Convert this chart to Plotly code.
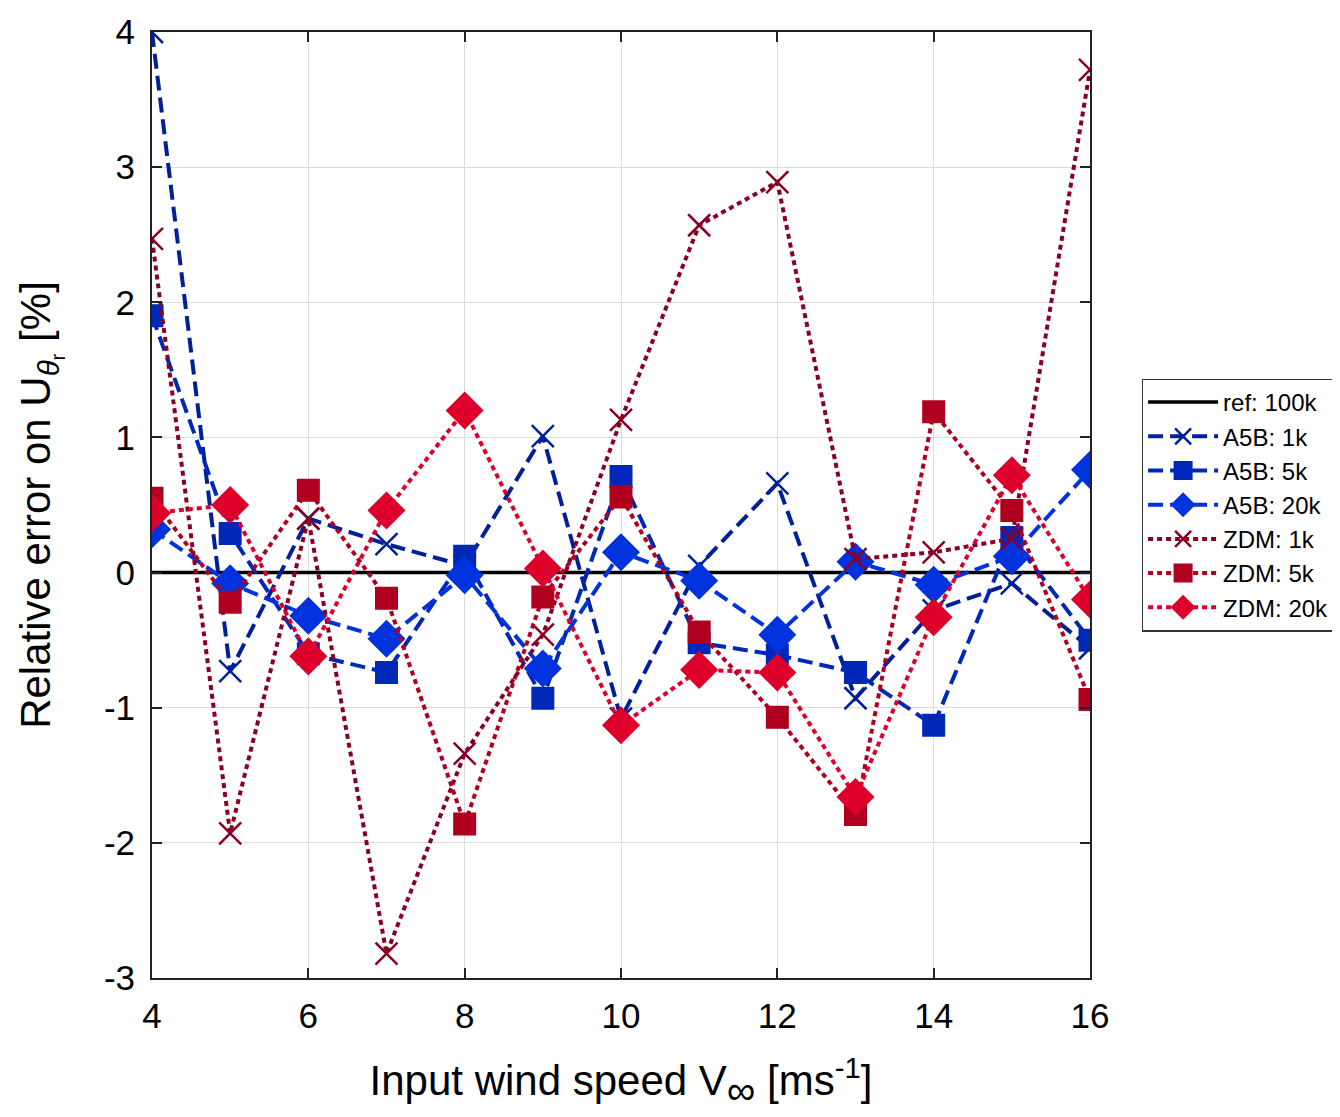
import plotly.graph_objects as go

x = [4, 5, 6, 7, 8, 9, 10, 11, 12, 13, 14, 15, 16]
ref_100k = [0] * 13
a5b_1k = [4.00, -0.73, 0.40, 0.21, 0.05, 1.01, -1.08, 0.05, 0.66, -0.93, -0.28, -0.08, -0.56]
a5b_5k = [1.90, 0.29, -0.60, -0.74, 0.12, -0.93, 0.71, -0.52, -0.61, -0.74, -1.13, 0.26, -0.50]
a5b_20k = [0.32, -0.08, -0.32, -0.49, -0.02, -0.71, 0.15, -0.06, -0.46, 0.08, -0.09, 0.12, 0.76]
zdm_1k = [2.47, -1.93, 0.40, -2.82, -1.34, -0.46, 1.13, 2.57, 2.89, 0.10, 0.15, 0.25, 3.72]
zdm_5k = [0.55, -0.22, 0.61, -0.19, -1.86, -0.18, 0.56, -0.44, -1.07, -1.79, 1.19, 0.46, -0.94]
zdm_20k = [0.44, 0.50, -0.62, 0.46, 1.20, 0.03, -1.13, -0.72, -0.74, -1.66, -0.33, 0.72, -0.20]

x_ticks = [4, 6, 8, 10, 12, 14, 16]
y_ticks = [-3, -2, -1, 0, 1, 2, 3, 4]
y_tick_labels = ["-3", "-2", "-1", "0", "1", "2", "3", "4"]

series = [
    ("A5B: 1k", a5b_1k, "#00209a", "15px,7px", "x-thin", 22),
    ("A5B: 5k", a5b_5k, "#0028b8", "15px,7px", "square", 20),
    ("A5B: 20k", a5b_20k, "#0033dd", "15px,7px", "diamond", 26),
    ("ZDM: 1k", zdm_1k, "#8a0024", "5px,4px", "x-thin", 22),
    ("ZDM: 5k", zdm_5k, "#b00020", "5px,4px", "square", 20),
    ("ZDM: 20k", zdm_20k, "#dc002a", "5px,4px", "diamond", 26),
]

fig = go.Figure()
fig.add_trace(go.Scatter(x=x, y=ref_100k, mode="lines", name="ref: 100k",
                         line=dict(color="black", width=3.5)))
for name, y, color, dash, sym, size in series:
    fig.add_trace(go.Scatter(
        x=x, y=y, mode="lines+markers", name=name,
        line=dict(color=color, width=4, dash=dash),
        marker=dict(symbol=sym, size=size, color=color,
                    line=dict(color=color, width=2.5 if sym == "x-thin" else 3)),
    ))

font_family = "Liberation Sans, Arial, sans-serif"
axis_common = dict(
    showgrid=True, gridcolor="#dcdcdc", gridwidth=1,
    showline=True, linecolor="#222222", linewidth=2, mirror="ticks",
    ticks="inside", ticklen=10, tickcolor="#222222", tickwidth=2,
    tickfont=dict(size=35), zeroline=False, automargin=False,
)
fig.update_layout(
    width=1340, height=1117,
    margin=dict(l=144, r=258, t=24, b=147, autoexpand=False),
    paper_bgcolor="white", plot_bgcolor="white",
    font=dict(family=font_family, color="black"),
    showlegend=True,
    legend=dict(x=1.055, xanchor="left", xref="paper", y=0.5, yanchor="middle",
                bordercolor="#333333", borderwidth=1.5, bgcolor="white",
                font=dict(size=24, family=font_family),
                itemwidth=70, tracegroupgap=0),
    xaxis=dict(range=[4, 16], tickvals=x_ticks, ticklabelstandoff=6, **axis_common,
               title=dict(text="Input wind speed V<sub><span style='font-size:40px'>∞</span></sub> [ms<sup>-1</sup>]",
                          font=dict(size=42), standoff=32)),
    yaxis=dict(range=[-3, 4], tickvals=y_ticks, ticktext=y_tick_labels,
               ticklabelstandoff=8, **axis_common,
               title=dict(text="Relative error on U<sub><i>θ</i><sub>r</sub></sub> [%]",
                          font=dict(size=42), standoff=40)),
)

fig.write_html("out.html")
